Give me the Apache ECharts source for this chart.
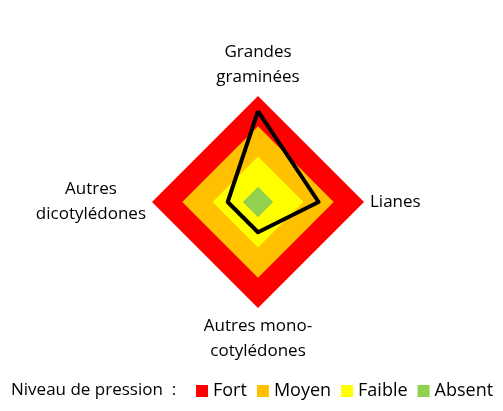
<!DOCTYPE html>
<html>
<head>
<meta charset="utf-8">
<script src="https://cdn.jsdelivr.net/npm/echarts@6/dist/echarts.min.js"></script>
<style>
  html, body { margin: 0; padding: 0; background: #fff; }
  #chart { width: 503px; height: 411px; }
</style>
</head>
<body>
<div id="chart"></div>
<script>
// Axes du radar (ordre : haut, gauche, bas, droite)
const indicators = ['Grandes\ngraminées', 'Autres\ndicotylédones', 'Autres mono-\ncotylédones', 'Lianes'];
// Niveaux de pression : 1 = Absent, 2 = Faible, 3 = Moyen, 4 = Fort
const levelNames = ['Fort', 'Moyen', 'Faible', 'Absent'];
const levelValues = [4, 3, 2, 1];
const levelColors = ['#FF0000', '#FFC000', '#FFFF00', '#92D050'];
// Pression observée
const pression = [3.5, 1.5, 1.5, 2.5];

const chart = echarts.init(document.getElementById('chart'));

const font = '"Open Sans", sans-serif';

const levelSeries = levelNames.map((name, i) => ({
  name: name,
  type: 'radar',
  symbol: 'none',
  silent: true,
  itemStyle: { color: levelColors[i] },
  lineStyle: { width: 0 },
  areaStyle: { color: levelColors[i], opacity: 1 },
  data: [{ value: indicators.map(() => levelValues[i]), name: name }]
}));

const option = {
  animation: false,
  title: {
    text: 'Niveau de pression  :',
    left: 6,
    top: 377,
    textStyle: { fontFamily: font, fontSize: 17, fontWeight: 'normal', color: '#000' }
  },
  legend: {
    data: levelNames,
    left: 191,
    top: 377,
    icon: 'rect',
    itemWidth: 12,
    itemHeight: 12,
    itemGap: 10,
    textStyle: { fontFamily: font, fontSize: 18, color: '#000' },
    selectedMode: false
  },
  radar: {
    center: [258, 202],
    radius: 106,
    shape: 'polygon',
    splitNumber: 1,
    indicator: indicators.map(n => ({ name: n, min: 0.5, max: 4 })),
    axisName: {
      fontFamily: font,
      fontSize: 17,
      color: '#000',
      lineHeight: 25,
      // centrer chaque ligne dans le bloc du libellé
      formatter: name => name.split('\n').map(s => '{c|' + s + '}').join('\n'),
      rich: {
        c: { fontFamily: font, fontSize: 17, color: '#000', lineHeight: 25, align: 'center' }
      }
    },
    nameGap: 6,
    axisLine: { show: false },
    splitLine: { show: false },
    splitArea: { show: false },
    axisTick: { show: false },
    axisLabel: { show: false }
  },
  series: levelSeries.concat([{
    name: 'Pression',
    type: 'radar',
    symbol: 'none',
    silent: true,
    lineStyle: { color: '#000', width: 4 },
    itemStyle: { color: '#000' },
    data: [{ value: pression, name: 'Pression' }]
  }])
};

chart.setOption(option);

window.addEventListener('resize', () => {
  chart.resize();
});
</script>
</body>
</html>
